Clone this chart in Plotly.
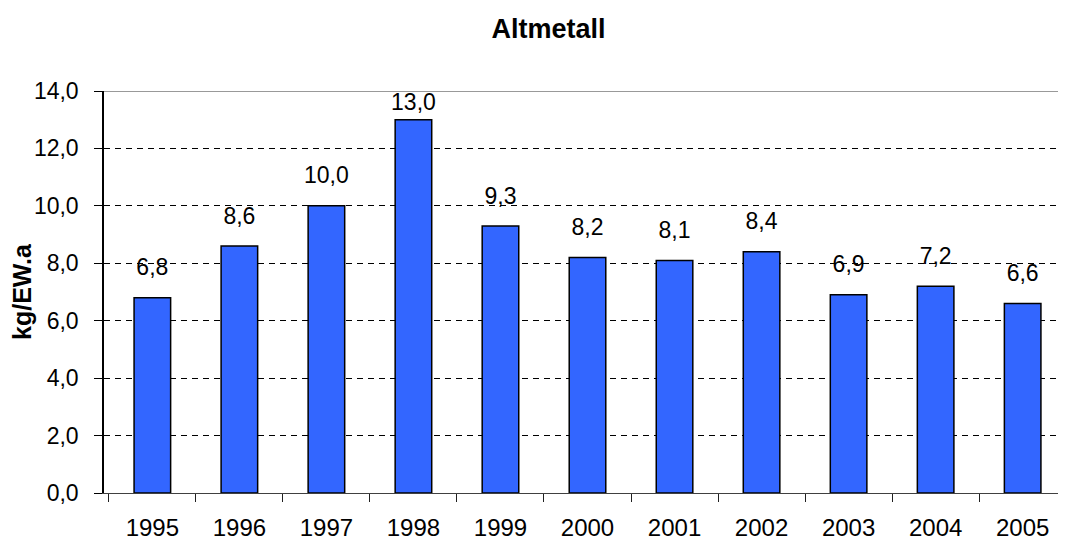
import plotly.graph_objs as go

years = ['1995', '1996', '1997', '1998', '1999', '2000', '2001', '2002', '2003', '2004', '2005']
values = [6.8, 8.6, 10.0, 13.0, 9.3, 8.2, 8.1, 8.4, 6.9, 7.2, 6.6]
yticks = [0, 2, 4, 6, 8, 10, 12, 14]

# the page is drawn with an 8px body margin, so offsets are taken off the margins
bars = go.Bar(
	x=years,
	y=values,
	marker=dict(color='#3366FF', line=dict(color='black', width=1.5)),
	width=0.42,
	showlegend=False,
	hoverinfo='x+y'
)

# labels sit above the bars, kept inside the plot area like Excel does
label_y = [min(v + 0.98, 13.55) for v in values]
labels = go.Scatter(
	x=years,
	y=label_y,
	mode='text',
	text=[('%.1f' % v).replace('.', ',') for v in values],
	textposition='middle center',
	textfont=dict(size=23, color='black'),
	cliponaxis=False,
	showlegend=False,
	hoverinfo='skip'
)

fig = go.Figure(data=[bars, labels])
fig.update_layout(
	width=1066,
	height=542,
	separators=',.',
	paper_bgcolor='white',
	plot_bgcolor='white',
	font=dict(family='Liberation Sans, Arial', size=23, color='black'),
	margin=dict(l=96, r=3, t=83, b=57),
	title=dict(text='<b>Altmetall</b>', x=0.507, xanchor='center', xref='container',
		y=0.963, yanchor='middle', yref='container', font=dict(size=27)),
	xaxis=dict(
		type='category',
		showline=True,
		linecolor='#404040',
		linewidth=1,
		ticks='outside',
		tickson='boundaries',
		ticklen=8,
		tickcolor='#202020',
		showgrid=False,
		ticklabelstandoff=13,
		tickfont=dict(size=24)
	),
	yaxis=dict(
		range=[0, 14],
		tickvals=yticks,
		tickformat='.1f',
		showline=True,
		linecolor='black',
		linewidth=1.5,
		ticks='outside',
		ticklen=8,
		tickcolor='black',
		showgrid=True,
		gridcolor='black',
		gridwidth=1,
		griddash='6px,5px',
		zeroline=False,
		ticklabelstandoff=11,
		tickfont=dict(size=23),
		title=dict(text='<b>kg/EW.a</b>', font=dict(size=25), standoff=3)
	),
	shapes=[dict(type='line', xref='paper', yref='y', x0=0, x1=1, y0=14, y1=14,
		line=dict(color='#999999', width=2))]
)

fig.write_html("out.html")
